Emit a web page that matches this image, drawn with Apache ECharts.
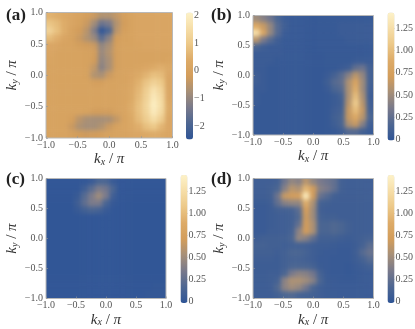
<!DOCTYPE html>
<html>
<head>
<meta charset="utf-8">
<style>
html, body { margin: 0; padding: 0; background: #fff; }
#fig { width: 415px; height: 329px; }
canvas[data-zr-dom-id="zr_0"] { filter: blur(2.2px); }
canvas[data-zr-dom-id="zr_1"] { filter: blur(0.35px); }
</style>
<script src="https://cdn.jsdelivr.net/npm/echarts@6/dist/echarts.min.js"></script>
</head>
<body>
<div id="fig"></div>
<script>
// k-grid centres, left to right and top to bottom
var kxCats = ['-0.94','-0.82','-0.71','-0.59','-0.47','-0.35','-0.24','-0.12','0','0.12','0.24','0.35','0.47','0.59','0.71','0.82','0.94'];
var kyCats = ['0.94','0.82','0.71','0.59','0.47','0.35','0.24','0.12','0','-0.12','-0.24','-0.35','-0.47','-0.59','-0.71','-0.82','-0.94'];

var panelA = [
    [.5,.4,.25,.15,.05,-.1,-.3,-.6,-.6,-.4,-.1,.05,.15,.15,.15,.15,.15],
    [.9,.7,.4,.15,.0,-.3,-.8,-1.5,-1.3,-.6,-.2,.05,.15,.15,.15,.15,.15],
    [1.2,.8,.4,.05,-.2,-.5,-1.2,-2.4,-1.9,-.5,-.1,.05,.15,.15,.15,.15,.15],
    [.7,.45,.15,.0,-.3,-.6,-.9,-1.7,-1.1,-.2,.0,.05,.15,.15,.15,.15,.15],
    [.2,.15,.05,.05,-.1,-.2,-.3,-1.0,-.7,-.1,.05,.05,.1,.15,.15,.15,.15],
    [.15,.05,.05,.05,.05,.0,-.1,-.9,-.6,-.1,.05,.05,.05,.05,.05,.05,.05],
    [.1,.05,.05,.05,.05,.0,-.2,-1.0,-.7,-.1,.05,.05,.05,.05,.05,.05,.1],
    [.05,.05,.05,.05,.05,.0,-.4,-1.1,-.7,-.1,.05,.05,.1,.2,.35,.45,.3],
    [.05,.05,.05,.05,.05,.0,-.6,-.7,-.3,.0,.05,.15,.3,.55,.8,.7,.2],
    [.05,.05,.05,.05,.05,.05,-.1,-.1,.05,.05,.05,.2,.5,.9,1.2,1.0,.15],
    [.05,.05,.05,.05,.05,.05,.05,.05,.05,.05,.1,.25,.6,1.1,1.6,1.25,.15],
    [.05,.05,.05,.05,.05,.05,.05,.05,.05,.05,.1,.3,.7,1.2,1.8,1.4,.2],
    [.05,.05,.05,.05,.05,.05,.05,.05,.05,.05,.1,.4,.8,1.3,1.95,1.5,.3],
    [.05,.05,.05,.05,.05,.0,-.2,-.2,-.2,.0,.1,.4,.8,1.25,1.85,1.4,.3],
    [.05,.05,.05,-.1,-.5,-.7,-.75,-.75,-.7,-.4,.05,.3,.7,1.1,1.5,1.1,.2],
    [.05,.05,.05,-.3,-.65,-.75,-.75,-.6,-.3,.0,.1,.25,.45,.8,1.0,.6,.2],
    [.05,.05,.05,-.05,-.2,-.25,-.2,-.1,.0,.05,.05,.15,.2,.3,.4,.3,.15]
];
var panelB = [
    [.5,.4,.3,.15,.05,.03,.03,.02,.02,.03,.03,.03,.03,.03,.03,.03,.03],
    [.85,.65,.45,.2,.08,.03,.03,.02,.02,.03,.03,.03,.05,.05,.05,.05,.05],
    [1.25,.8,.45,.2,.05,.03,.03,.02,.02,.03,.03,.03,.05,.05,.05,.05,.05],
    [.6,.35,.2,.08,.03,.03,.03,.02,.02,.03,.03,.03,.03,.05,.05,.05,.05],
    [.15,.08,.05,.05,.03,.03,.03,.02,.02,.03,.03,.03,.03,.03,.03,.03,.03],
    [.05,.05,.05,.05,.03,.03,.03,.02,.02,.02,.03,.03,.03,.03,.03,.03,.03],
    [.05,.05,.05,.03,.03,.03,.03,.02,.02,.02,.03,.03,.03,.03,.05,.05,.05],
    [.05,.05,.03,.03,.03,.03,.03,.02,.02,.02,.03,.03,.05,.08,.25,.3,.1],
    [.08,.05,.03,.03,.03,.03,.03,.02,.02,.02,.05,.12,.22,.4,.6,.45,.1],
    [.08,.05,.03,.03,.03,.03,.03,.02,.02,.02,.08,.2,.25,.55,.8,.5,.1],
    [.05,.05,.03,.03,.03,.03,.03,.02,.02,.02,.05,.15,.2,.55,.9,.5,.08],
    [.05,.03,.03,.03,.03,.03,.03,.02,.02,.02,.03,.06,.12,.55,1.0,.55,.06],
    [.05,.03,.03,.03,.03,.03,.03,.02,.02,.02,.03,.06,.1,.6,1.1,.6,.08],
    [.03,.03,.03,.03,.03,.03,.03,.02,.02,.02,.03,.08,.12,.65,1.0,.65,.1],
    [.03,.03,.03,.03,.03,.03,.03,.02,.02,.02,.03,.1,.15,.65,.85,.6,.15],
    [.03,.03,.03,.03,.03,.03,.03,.02,.02,.02,.03,.08,.15,.55,.65,.4,.08],
    [.03,.03,.03,.03,.03,.03,.03,.02,.02,.02,.03,.04,.08,.2,.2,.1,.04]
];
var panelC = [
    [0,0,0,0,0,0,.04,.15,.15,.04,0,0,0,0,0,0,0],
    [0,0,0,0,0,.08,.22,.36,.32,.15,0,0,0,0,0,0,0],
    [0,0,0,0,.04,.2,.36,.5,.36,.08,0,0,0,0,0,0,0],
    [0,0,0,0,.08,.24,.36,.36,.15,.02,0,0,0,0,0,0,0],
    [0,0,0,0,.04,.1,.15,.12,.04,0,0,0,0,0,0,0,0],
    [0,0,0,0,0,0,0,0,0,0,0,0,0,0,0,0,0],
    [0,0,0,0,0,0,0,0,0,0,0,0,0,0,0,0,0],
    [0,0,0,0,0,0,0,0,0,0,0,0,0,0,0,0,0],
    [0,0,0,0,0,0,0,0,0,0,0,0,0,0,0,0,0],
    [0,0,0,0,0,0,0,0,0,0,0,0,0,0,0,0,0],
    [0,0,0,0,0,0,0,0,0,0,0,0,0,0,0,0,0],
    [0,0,0,0,0,0,0,0,0,0,0,0,0,0,0,0,0],
    [0,0,0,0,0,0,0,0,0,0,0,0,0,0,0,0,0],
    [0,0,0,0,0,0,0,0,0,0,0,0,0,0,0,0,0],
    [0,0,0,0,0,0,0,0,0,0,0,0,0,0,0,0,0],
    [0,0,0,0,0,0,0,0,0,0,0,0,0,0,0,.01,.01],
    [0,0,0,0,0,0,0,0,0,0,0,0,0,0,.01,.01,.01]
];
var panelD = [
    [.08,.08,.08,.1,.3,.45,.4,.6,.45,.35,.3,.25,.1,.08,.08,.08,.08],
    [.08,.08,.1,.15,.4,.6,.55,.95,.7,.4,.35,.25,.1,.08,.08,.08,.08],
    [.08,.08,.1,.3,.65,.7,.72,1.35,.7,.28,.2,.1,.08,.08,.08,.08,.08],
    [.06,.06,.08,.25,.4,.45,.45,.9,.55,.12,.1,.08,.08,.08,.08,.08,.08],
    [.05,.05,.07,.1,.1,.12,.22,.72,.5,.1,.08,.08,.08,.08,.08,.08,.08],
    [.05,.05,.07,.08,.08,.1,.18,.68,.5,.12,.1,.1,.08,.08,.08,.08,.08],
    [.05,.05,.07,.08,.08,.1,.25,.7,.55,.15,.15,.18,.15,.1,.08,.08,.08],
    [.05,.05,.08,.08,.08,.12,.42,.7,.55,.15,.15,.18,.15,.1,.08,.08,.08],
    [.08,.1,.1,.1,.1,.15,.45,.4,.25,.1,.1,.1,.08,.07,.08,.1,.12],
    [.12,.12,.1,.1,.08,.1,.1,.1,.08,.07,.07,.06,.05,.05,.07,.12,.22],
    [.1,.1,.1,.08,.1,.15,.15,.12,.08,.06,.05,.05,.04,.04,.08,.2,.28],
    [.08,.08,.08,.07,.1,.12,.12,.1,.08,.05,.05,.04,.04,.04,.07,.12,.2],
    [.07,.07,.07,.07,.1,.15,.15,.15,.12,.06,.05,.04,.04,.03,.05,.07,.1],
    [.07,.07,.08,.08,.15,.35,.42,.4,.32,.12,.05,.04,.04,.03,.04,.05,.05],
    [.07,.07,.08,.12,.42,.55,.55,.5,.4,.15,.06,.05,.04,.04,.04,.05,.05],
    [.07,.07,.08,.18,.42,.5,.45,.32,.15,.08,.06,.05,.05,.05,.05,.05,.05],
    [.07,.07,.07,.1,.15,.18,.12,.1,.1,.08,.06,.06,.05,.05,.05,.05,.05]
];

var panelRows = [panelA, panelB, panelC, panelD];
var panelNames = ['(a)', '(b)', '(c)', '(d)'];
var barMin = [-2.47, -0.015, -0.015, -0.015];
var barMax = [2.1, 1.43, 1.43, 1.43];
var barTicksA = [-2, -1, 0, 1, 2];
var barTicksB = [0, 0.25, 0.5, 0.75, 1, 1.25];
var barTicks = [barTicksA, barTicksB, barTicksB, barTicksB];
var sunset = ['#2f5596', '#4d6692', '#78798b', '#a68f78', '#d39d5b', '#ddab68', '#ecc888', '#f6dea8', '#fdf2c9'];

var plots = [
    {left: 46, top: 12.5, width: 126.5, height: 125.5},
    {left: 253, top: 15.5, width: 120.5, height: 119.5},
    {left: 46, top: 178.5, width: 120, height: 120},
    {left: 253, top: 178.5, width: 120.5, height: 120}
];
var bars = [
    {left: 186, top: 12.5, width: 7, height: 127},
    {left: 387.5, top: 12.5, width: 7, height: 128},
    {left: 180.5, top: 175, width: 7, height: 128},
    {left: 387.5, top: 175, width: 7, height: 128}
];
var labels = [
    {left: 6, top: 7},
    {left: 211, top: 7},
    {left: 6, top: 171},
    {left: 211, top: 171}
];

var serifFont = '"Liberation Serif", serif';
var textColor = '#555';

// one extra row of edge cells all round, so the blur does not fade out at the frame
function padCats(list) {
    return ['p0'].concat(list, ['p1']);
}

function heatData(rows) {
    var out = [];
    var last = rows.length - 1;
    for (var r = -1; r <= last + 1; r++) {
        var row = rows[Math.max(0, Math.min(last, r))];
        for (var c = -1; c <= last + 1; c++) {
            out.push([c + 1, r + 1, row[Math.max(0, Math.min(last, c))]]);
        }
    }
    return out;
}

function kLabel(v) {
    return v.toFixed(1).replace('-', '\u2212');
}

function barLabel(i) {
    return function (v) {
        if (i === 0) {
            return String(v).replace('-', '\u2212');
        }
        return v === 0 ? '0' : v.toFixed(2);
    };
}

function nameText(sub) {
    return '{i|k}{s|' + sub + '}{n| / }{i|\u03c0}';
}

var nameRich = {
    i: {fontFamily: serifFont, fontStyle: 'italic', fontSize: 15, color: '#333'},
    s: {fontFamily: serifFont, fontStyle: 'italic', fontSize: 10, color: '#333', padding: [5, 0, 0, 0]},
    n: {fontFamily: serifFont, fontSize: 15, color: '#333'}
};

var option = {
    animation: false,
    backgroundColor: 'transparent',
    title: [],
    grid: [],
    xAxis: [],
    yAxis: [],
    visualMap: [],
    series: []
};

plots.forEach(function (p, i) {
    var cellW = p.width / kxCats.length;
    var cellH = p.height / kyCats.length;

    // heat grid, hidden category axes
    option.grid.push({
        left: p.left - cellW, top: p.top - cellH,
        width: p.width + 2 * cellW, height: p.height + 2 * cellH,
        outerBoundsMode: 'none', zlevel: 0
    });
    option.xAxis.push({type: 'category', gridIndex: i * 3, data: padCats(kxCats), show: false, zlevel: 0});
    option.yAxis.push({type: 'category', gridIndex: i * 3, data: padCats(kyCats), inverse: true, show: false, zlevel: 0});

    // frame and k axes
    option.grid.push({
        left: p.left, top: p.top, width: p.width, height: p.height, outerBoundsMode: 'none',
        show: true, backgroundColor: 'transparent', borderColor: '#b8b8b8', borderWidth: 1, zlevel: 1
    });
    option.xAxis.push({
        type: 'value', gridIndex: i * 3 + 1, min: -1, max: 1, interval: 0.5, zlevel: 1,
        name: nameText('x'), nameLocation: 'middle', nameGap: 14,
        nameTextStyle: {rich: nameRich},
        axisLine: {show: false, onZero: false},
        axisTick: {show: true, inside: true, length: 2, lineStyle: {color: '#999', width: 0.6}},
        splitLine: {show: false},
        axisLabel: {
            fontFamily: serifFont, fontSize: 10, color: textColor, margin: 2,
            showMinLabel: true, showMaxLabel: true, hideOverlap: false,
            formatter: kLabel
        }
    });
    option.yAxis.push({
        type: 'value', gridIndex: i * 3 + 1, min: -1, max: 1, interval: 0.5, zlevel: 1,
        name: nameText('y'), nameLocation: 'middle', nameGap: 26,
        nameTextStyle: {rich: nameRich},
        axisLine: {show: false, onZero: false},
        axisTick: {show: true, inside: true, length: 2, lineStyle: {color: '#999', width: 0.6}},
        splitLine: {show: false},
        axisLabel: {
            fontFamily: serifFont, fontSize: 10, color: textColor, margin: 3,
            showMinLabel: true, showMaxLabel: true, hideOverlap: false,
            formatter: kLabel
        }
    });

    // colour bar axis
    var b = bars[i];
    option.grid.push({left: b.left, top: b.top, width: b.width, height: b.height, outerBoundsMode: 'none', zlevel: 1});
    option.xAxis.push({type: 'value', gridIndex: i * 3 + 2, min: 0, max: 1, show: false, zlevel: 1});
    option.yAxis.push({
        type: 'value', gridIndex: i * 3 + 2, position: 'right', min: barMin[i], max: barMax[i], zlevel: 1,
        axisLine: {show: false, onZero: false},
        splitLine: {show: false},
        axisTick: {show: true, inside: true, length: 2, customValues: barTicks[i], lineStyle: {color: '#999', width: 0.6}},
        axisLabel: {
            fontFamily: serifFont, fontSize: 10, color: textColor, margin: 1,
            customValues: barTicks[i], formatter: barLabel(i)
        }
    });

    option.visualMap.push({
        type: 'continuous', seriesIndex: i, min: barMin[i], max: barMax[i], dimension: 2,
        left: b.left, top: b.top, itemWidth: b.width, itemHeight: b.height,
        padding: 0, calculable: false, realtime: false, hoverLink: false, text: null, zlevel: 1,
        inRange: {color: sunset}
    });

    option.series.push({
        type: 'heatmap', name: panelNames[i], xAxisIndex: i * 3, yAxisIndex: i * 3,
        data: heatData(panelRows[i]), silent: true, zlevel: 0, progressive: 0,
        itemStyle: {borderWidth: 0}
    });

    option.title.push({
        text: panelNames[i], left: labels[i].left, top: labels[i].top, padding: 0, zlevel: 1,
        textStyle: {fontFamily: serifFont, fontWeight: 'bold', fontSize: 17, color: '#222'}
    });
});

var chart = echarts.init(document.getElementById('fig'), null, {renderer: 'canvas'});
chart.setOption(option);

// blur only spreads the heat cells, cut it back to the frames
var clip = plots.map(function (p) {
    return 'M' + p.left + ' ' + p.top + 'h' + p.width + 'v' + p.height + 'h' + (-p.width) + 'z';
}).join(' ');
var heatCanvas = document.querySelector('canvas[data-zr-dom-id="zr_0"]');
if (heatCanvas) {
    heatCanvas.style.clipPath = 'path("' + clip + '")';
}
</script>
</body>
</html>
